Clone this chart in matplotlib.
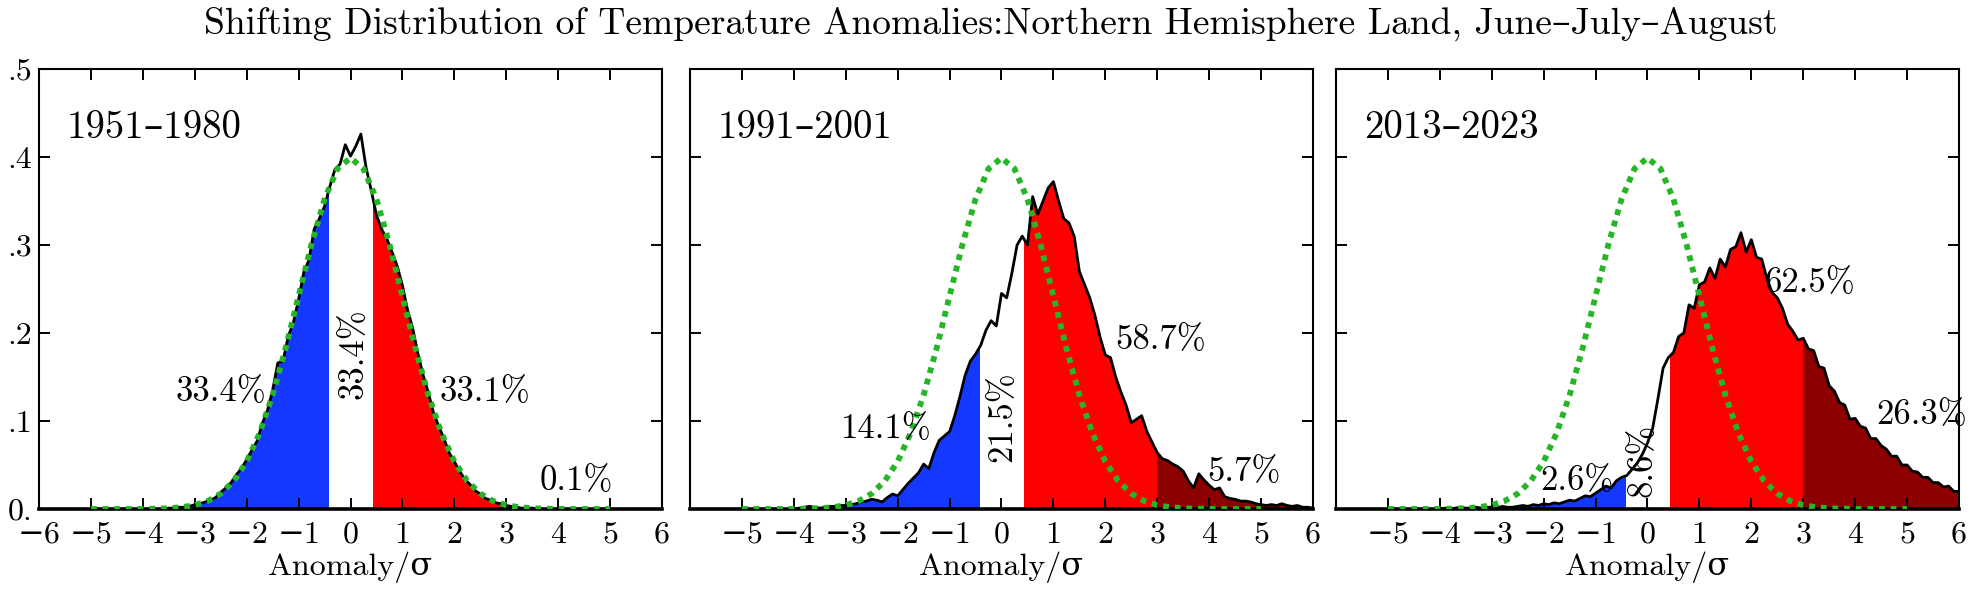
import numpy as np
import matplotlib
matplotlib.use('Agg')
import matplotlib.pyplot as plt
from matplotlib.patches import Rectangle

plt.rcParams['font.family'] = ['cmr10', 'DejaVu Serif']
plt.rcParams['mathtext.fontset'] = 'cm'

# ---- data ----
title = 'Shifting Distribution of Temperature Anomalies:Northern Hemisphere Land, June–July–August'
periods = ['1951–1980', '1991–2001', '2013–2023']

# sampling grids (anomaly / sigma)
x_base = np.round(np.arange(-3.5, 3.51, 0.1), 1)
x_recent = np.round(np.arange(-4.0, 6.01, 0.1), 1)

dens_1951_1980 = [
    0.001, 0.001, 0.002, 0.002, 0.003, 0.005, 0.006, 0.008, 0.010, 0.013,
    0.019, 0.024, 0.030, 0.039, 0.046, 0.056, 0.067, 0.077, 0.097, 0.112,
    0.135, 0.166, 0.168, 0.196, 0.212, 0.238, 0.269, 0.283, 0.318, 0.330,
    0.344, 0.366, 0.386, 0.392, 0.414, 0.401, 0.412, 0.426, 0.388, 0.362,
    0.334, 0.318, 0.307, 0.292, 0.276, 0.254, 0.226, 0.205, 0.176, 0.152,
    0.132, 0.109, 0.094, 0.080, 0.064, 0.054, 0.043, 0.034, 0.028, 0.021,
    0.017, 0.012, 0.010, 0.007, 0.006, 0.004, 0.003, 0.002, 0.001, 0.001,
    0.001,
]

dens_1991_2001 = [
    0.000, 0.001, 0.002, 0.003, 0.002, 0.001, 0.002, 0.003, 0.003, 0.004,
    0.004, 0.005, 0.006, 0.008, 0.009, 0.011, 0.010, 0.008, 0.013, 0.017,
    0.015, 0.022, 0.029, 0.035, 0.041, 0.051, 0.046, 0.064, 0.078, 0.083,
    0.088, 0.106, 0.128, 0.152, 0.168, 0.176, 0.186, 0.203, 0.214, 0.208,
    0.245, 0.240, 0.268, 0.300, 0.310, 0.300, 0.355, 0.335, 0.350, 0.365,
    0.372, 0.350, 0.330, 0.325, 0.310, 0.270, 0.255, 0.240, 0.220, 0.195,
    0.175, 0.172, 0.150, 0.133, 0.118, 0.098, 0.102, 0.106, 0.088, 0.076,
    0.064, 0.057, 0.055, 0.051, 0.048, 0.043, 0.032, 0.024, 0.040, 0.033,
    0.027, 0.022, 0.024, 0.014, 0.012, 0.011, 0.009, 0.009, 0.008, 0.006,
    0.005, 0.004, 0.005, 0.004, 0.006, 0.004, 0.003, 0.004, 0.002, 0.002,
    0.001,
]

dens_2013_2023 = [
    0.000, 0.001, 0.000, 0.001, 0.002, 0.001, 0.001, 0.002, 0.001, 0.002,
    0.002, 0.001, 0.003, 0.002, 0.002, 0.003, 0.004, 0.003, 0.005, 0.004,
    0.006, 0.005, 0.007, 0.006, 0.008, 0.010, 0.009, 0.012, 0.015, 0.014,
    0.018, 0.022, 0.026, 0.024, 0.032, 0.036, 0.038, 0.045, 0.052, 0.062,
    0.075, 0.092, 0.125, 0.160, 0.172, 0.178, 0.196, 0.200, 0.232, 0.228,
    0.255, 0.258, 0.274, 0.262, 0.284, 0.275, 0.295, 0.298, 0.314, 0.292,
    0.306, 0.286, 0.284, 0.262, 0.246, 0.240, 0.228, 0.210, 0.202, 0.192,
    0.194, 0.182, 0.180, 0.162, 0.160, 0.140, 0.134, 0.121, 0.118, 0.102,
    0.103, 0.094, 0.092, 0.080, 0.080, 0.072, 0.068, 0.060, 0.060, 0.050,
    0.050, 0.043, 0.042, 0.036, 0.036, 0.030, 0.030, 0.025, 0.026, 0.020,
    0.020,
]

# green reference curve (base period normal), read every 0.25 sigma
x_ref = np.round(np.arange(-5.0, 5.01, 0.25), 2)
dens_ref = [
    0.0, 0.0, 0.0, 0.0, 0.0001, 0.0004, 0.0009, 0.002, 0.0044, 0.0091,
    0.0175, 0.0317, 0.054, 0.0863, 0.1295, 0.1826, 0.242, 0.3011, 0.3521, 0.3867,
    0.3989,
    0.3867, 0.3521, 0.3011, 0.242, 0.1826, 0.1295, 0.0863, 0.054, 0.0317, 0.0175,
    0.0091, 0.0044, 0.002, 0.0009, 0.0004, 0.0001, 0.0, 0.0, 0.0, 0.0,
]

# category edges: cold | normal | hot | extremely hot
edges = [-6.0, -0.43, 0.43, 3.0, 6.0]
shares = [
    ['33.4%', '33.4%', '33.1%', '0.1%'],
    ['14.1%', '21.5%', '58.7%', '5.7%'],
    ['2.6%', '8.6%', '62.5%', '26.3%'],
]

xs = [x_base, x_recent, x_recent]
ys = [dens_1951_1980, dens_1991_2001, dens_2013_2023]

# ---- styling / layout ----
fill_colors = ['#1438ff', None, '#ff0000', '#8c0000']
green = '#26b526'
label_pos = [
    [(-1.62, 0.137, 'right', 0), (0.07, 0.177, 'center', 90), (1.72, 0.137, 'left', 0), (3.65, 0.036, 'left', 0)],
    [(-1.35, 0.095, 'right', 0), (0.02, 0.105, 'center', 90), (2.19, 0.196, 'left', 0), (3.96, 0.046, 'left', 0)],
    [(-0.66, 0.036, 'right', 0), (-0.10, 0.055, 'center', 90), (2.25, 0.261, 'left', 0), (4.40, 0.111, 'left', 0)],
]

W, H = 1981, 599
fig = plt.figure(figsize=(W / 100, H / 100), dpi=100)
lefts = [39, 690, 1336]

for i in range(3):
    ax = fig.add_axes([lefts[i] / W, 90 / H, 623 / W, 440 / H])
    x = np.asarray(xs[i])
    y = np.asarray(ys[i])

    for j in range(4):
        if fill_colors[j] is None:
            continue
        poly = ax.fill_between(x, 0, y, color=fill_colors[j], lw=0, zorder=1)
        clip = Rectangle((edges[j], 0), edges[j + 1] - edges[j], 1,
                         transform=ax.transData)
        poly.set_clip_path(clip)

    ax.plot(x, y, color='black', lw=2.0, zorder=3)
    ax.plot(x_ref, dens_ref, color=green, lw=4.2, linestyle=(0, (1, 1.0)),
            dash_capstyle='butt', zorder=4)

    ax.set_xlim(-6, 6)
    ax.set_ylim(0, 0.5)
    ax.set_xticks(range(-6, 7))
    xt = [str(v).replace('-', '−') for v in range(-6, 7)]
    if i > 0:
        xt[0] = ''
    ax.set_xticklabels(xt)
    ax.set_yticks([0, 0.1, 0.2, 0.3, 0.4, 0.5])
    if i == 0:
        ax.set_yticklabels(['0.', '.1', '.2', '.3', '.4', '.5'])
    else:
        ax.set_yticklabels([])
    ax.tick_params(direction='in', top=True, right=True, length=8, width=1.4,
                   labelsize=23, pad=9)
    ax.tick_params(axis='y', pad=5)
    for s in ax.spines.values():
        s.set_linewidth(1.5)
    ax.spines['bottom'].set_linewidth(2.6)
    ax.set_xlabel('Anomaly/σ', fontsize=23, labelpad=2)

    ax.text(0.045, 0.875, periods[i], transform=ax.transAxes, fontsize=28,
            ha='left', va='center_baseline')
    for txt, (tx, ty, ha, rot) in zip(shares[i], label_pos[i]):
        ax.text(tx, ty, txt, fontsize=25, ha=ha,
                va='center' if rot else 'center_baseline', rotation=rot,
                zorder=5)

fig.text(0.5, 1 - 24 / H, title, ha='center', va='center', fontsize=27)

fig.savefig('out.png', dpi=100)
